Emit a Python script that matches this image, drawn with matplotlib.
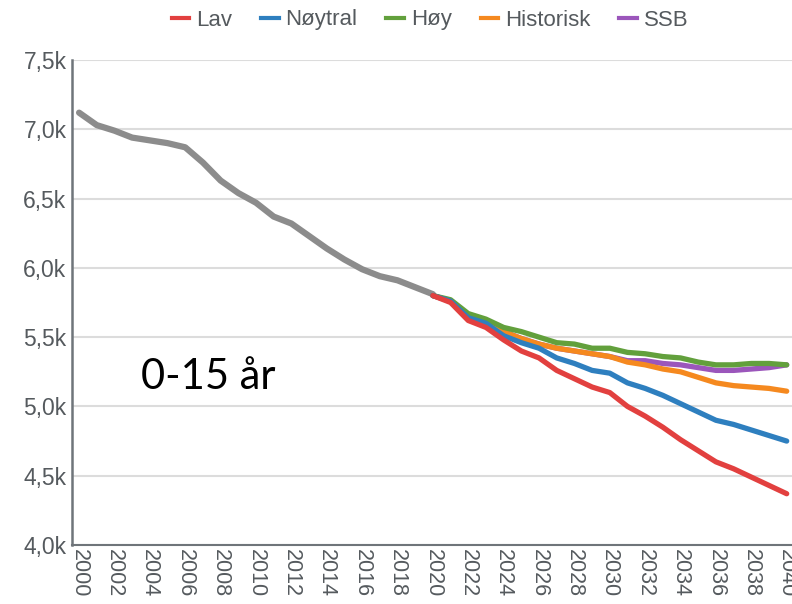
import matplotlib
matplotlib.use("Agg")
import matplotlib.pyplot as plt
from matplotlib.ticker import FuncFormatter, MultipleLocator

# historisk befolkning 0-15 år (tusen)
years_hist = list(range(2000, 2021))
hist = [7.12, 7.03, 6.99, 6.94, 6.92, 6.90, 6.87, 6.76, 6.63, 6.54, 6.47,
        6.37, 6.32, 6.23, 6.14, 6.06, 5.99, 5.94, 5.91, 5.86, 5.81]

# framskrivinger 2020-2040
years_proj = list(range(2020, 2041))
lav = [5.80, 5.75, 5.62, 5.57, 5.48, 5.40, 5.35, 5.26, 5.20, 5.14, 5.10,
       5.00, 4.93, 4.85, 4.76, 4.68, 4.60, 4.55, 4.49, 4.43, 4.37]
noytral = [5.80, 5.76, 5.64, 5.60, 5.51, 5.46, 5.42, 5.35, 5.31, 5.26, 5.24,
           5.17, 5.13, 5.08, 5.02, 4.96, 4.90, 4.87, 4.83, 4.79, 4.75]
hoy = [5.80, 5.77, 5.67, 5.63, 5.57, 5.54, 5.50, 5.46, 5.45, 5.42, 5.42,
       5.39, 5.38, 5.36, 5.35, 5.32, 5.30, 5.30, 5.31, 5.31, 5.30]
historisk = [5.80, 5.76, 5.66, 5.62, 5.54, 5.49, 5.45, 5.42, 5.40, 5.38, 5.36,
             5.32, 5.30, 5.27, 5.25, 5.21, 5.17, 5.15, 5.14, 5.13, 5.11]
ssb = [5.80, 5.76, 5.66, 5.62, 5.54, 5.49, 5.45, 5.42, 5.40, 5.38, 5.36,
       5.33, 5.33, 5.31, 5.30, 5.28, 5.26, 5.26, 5.27, 5.28, 5.30]

series = [
    ("Lav", lav, "#e2403f"),
    ("Nøytral", noytral, "#2e7fbf"),
    ("Høy", hoy, "#62a03c"),
    ("Historisk", historisk, "#f5891f"),
    ("SSB", ssb, "#9b56bb"),
]

plt.rcParams['font.family'] = ['Liberation Sans', 'DejaVu Sans']

fig = plt.figure(figsize=(7.92, 6.04), dpi=100)
ax = fig.add_axes([72 / 792, 1 - 545 / 604, 1 - 72 / 792, (545 - 60) / 604])

ax.plot(years_hist, hist, color="#8c8c8c", lw=4.5, solid_capstyle="round", zorder=3)

# tegneorden: SSB under, så Historisk, Høy, Nøytral, Lav
order = [4, 3, 2, 1, 0]
for i in order:
    name, vals, col = series[i]
    ax.plot(years_proj, vals, color=col, lw=3.8, solid_capstyle="round", zorder=4)

ax.set_xlim(1999.6, 2040.3)
ax.set_ylim(4.0, 7.5)
ax.xaxis.set_major_locator(MultipleLocator(2))
ax.yaxis.set_major_locator(MultipleLocator(0.5))
ax.yaxis.set_major_formatter(FuncFormatter(lambda v, p: f"{v:.1f}k".replace(".", ",")))
ax.xaxis.set_major_formatter(FuncFormatter(lambda v, p: f"{int(v)}"))

ax.grid(axis="y", color="#dcdcdc", lw=1.5)
ax.set_axisbelow(True)
for s in ["top", "right"]:
    ax.spines[s].set_visible(False)
ax.spines["left"].set_color("#6f757a")
ax.spines["left"].set_linewidth(1.8)
ax.spines["bottom"].set_color("#6f757a")
ax.spines["bottom"].set_linewidth(1.5)

ax.tick_params(axis="y", length=0, labelsize=16.5, labelcolor="#555a5e", pad=4)
ax.tick_params(axis="x", length=0, labelsize=15.5, labelcolor="#555a5e", pad=3,
               labelrotation=-90)

ax.text(2003.5, 5.21, "0-15 år", fontsize=30, color="black", va="center",
        family=["Lato", "DejaVu Sans"])

handles = [plt.Line2D([], [], color=c, lw=3) for _, _, c in series]
labels = [n for n, _, _ in series]
fig.legend(handles, labels, loc="center", bbox_to_anchor=(430 / 792, 1 - 20 / 604),
           ncol=5, frameon=False, fontsize=16, labelcolor="#555a5e",
           handlelength=0.8, handletextpad=0.3, columnspacing=1.3)

fig.savefig("out.png", dpi=100)
